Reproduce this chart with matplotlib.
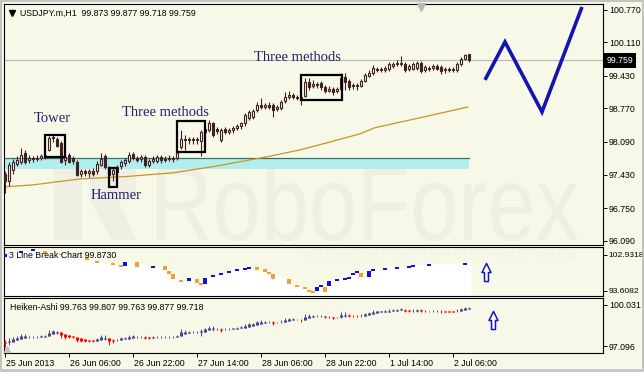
import numpy as np
import matplotlib
matplotlib.use('Agg')
import matplotlib.pyplot as plt
from matplotlib.path import Path
from matplotlib.textpath import TextPath
from matplotlib.font_manager import FontProperties
from matplotlib.patches import PathPatch, Rectangle, Polygon
import matplotlib.transforms as mtransforms

plt.rcParams['font.family'] = ['Liberation Sans', 'DejaVu Sans']

# ---------------- data ----------------
opens = [97.45, 97.29, 97.53, 97.65, 97.69, 97.87, 97.72, 97.76, 97.74, 97.77,
         97.80, 97.93, 98.17, 98.16, 98.07, 97.72, 97.83, 97.76, 97.69, 97.44,
         97.50, 97.46, 97.50, 97.50, 97.63, 97.80, 97.56, 97.45, 97.48, 97.60,
         97.66, 97.70, 97.85, 97.76, 97.74, 97.78, 97.63, 97.70, 97.70, 97.78,
         97.72, 97.74, 97.77, 97.76, 97.99, 98.15, 98.13, 98.15, 98.13, 98.11,
         98.30, 98.34, 98.48, 98.35, 98.14, 98.36, 98.30, 98.33, 98.38, 98.41,
         98.47, 98.58, 98.60, 98.74, 98.84, 98.80, 98.85, 98.84, 98.76, 98.78,
         98.92, 99.00, 99.04, 99.00, 98.95, 99.03, 99.30, 99.22, 99.26, 99.28,
         99.20, 99.13, 99.17, 99.12, 99.16, 99.41, 99.33, 99.22, 99.24, 99.22,
         99.33, 99.43, 99.48, 99.58, 99.56, 99.55, 99.57, 99.64, 99.67, 99.68,
         99.68, 99.58, 99.58, 99.60, 99.70, 99.55, 99.60, 99.59, 99.63, 99.62,
         99.55, 99.57, 99.55, 99.55, 99.68, 99.78, 99.873]
highs = [97.50, 97.68, 97.75, 97.80, 97.97, 97.92, 97.82, 97.80, 97.82, 97.85,
         97.88, 98.22, 98.25, 98.20, 98.12, 97.82, 97.86, 97.80, 97.72, 97.55,
         97.55, 97.55, 97.56, 97.70, 97.87, 97.85, 97.60, 97.58, 97.62, 97.72,
         97.76, 97.88, 97.88, 97.80, 97.82, 97.82, 97.74, 97.80, 97.82, 97.82,
         97.80, 97.82, 97.80, 97.90, 98.34, 98.24, 98.20, 98.20, 98.20, 98.34,
         98.40, 98.54, 98.50, 98.40, 98.38, 98.40, 98.38, 98.42, 98.46, 98.50,
         98.68, 98.74, 98.76, 98.90, 98.98, 98.88, 98.90, 98.88, 98.84, 98.94,
         99.10, 99.12, 99.08, 99.05, 99.06, 99.39, 99.38, 99.34, 99.30, 99.32,
         99.24, 99.22, 99.20, 99.20, 99.50, 99.50, 99.37, 99.28, 99.28, 99.36,
         99.48, 99.55, 99.65, 99.62, 99.62, 99.64, 99.72, 99.72, 99.75, 99.84,
         99.72, 99.67, 99.72, 99.74, 99.74, 99.65, 99.63, 99.68, 99.67, 99.66,
         99.62, 99.61, 99.62, 99.71, 99.82, 99.88, 99.877]
lows = [97.05, 97.20, 97.45, 97.60, 97.65, 97.65, 97.66, 97.68, 97.70, 97.72,
        97.75, 97.90, 98.10, 97.98, 97.66, 97.63, 97.66, 97.64, 97.40, 97.38,
        97.40, 97.38, 97.40, 97.45, 97.60, 97.55, 97.18, 97.30, 97.42, 97.55,
        97.60, 97.66, 97.72, 97.68, 97.68, 97.58, 97.58, 97.66, 97.66, 97.66,
        97.68, 97.70, 97.68, 97.72, 97.95, 97.93, 98.05, 98.05, 98.04, 97.80,
        98.25, 98.30, 98.20, 98.26, 98.10, 98.25, 98.26, 98.28, 98.34, 98.36,
        98.42, 98.54, 98.56, 98.70, 98.76, 98.76, 98.76, 98.60, 98.72, 98.74,
        98.88, 98.96, 98.96, 98.94, 98.84, 99.00, 99.15, 99.18, 99.18, 99.15,
        99.08, 99.10, 99.05, 99.08, 99.12, 99.15, 99.15, 99.16, 99.15, 99.20,
        99.30, 99.40, 99.45, 99.52, 99.52, 99.52, 99.54, 99.60, 99.64, 99.64,
        99.52, 99.54, 99.55, 99.56, 99.50, 99.52, 99.54, 99.55, 99.55, 99.47,
        99.50, 99.51, 99.51, 99.52, 99.64, 99.75, 99.718]
closes = [97.30, 97.63, 97.69, 97.72, 97.83, 97.69, 97.76, 97.74, 97.77, 97.80,
          97.82, 98.17, 98.20, 98.00, 97.69, 97.79, 97.69, 97.70, 97.42, 97.50,
          97.46, 97.50, 97.45, 97.65, 97.75, 97.58, 97.42, 97.52, 97.58, 97.68,
          97.72, 97.83, 97.76, 97.72, 97.78, 97.62, 97.70, 97.75, 97.78, 97.72,
          97.75, 97.77, 97.74, 97.86, 98.16, 98.13, 98.15, 98.13, 98.15, 98.30,
          98.36, 98.48, 98.24, 98.31, 98.34, 98.30, 98.33, 98.38, 98.42, 98.47,
          98.64, 98.70, 98.72, 98.84, 98.80, 98.84, 98.80, 98.74, 98.80, 98.90,
          99.00, 99.04, 99.00, 98.98, 99.00, 99.30, 99.20, 99.27, 99.24, 99.20,
          99.12, 99.17, 99.10, 99.16, 99.39, 99.30, 99.20, 99.24, 99.22, 99.33,
          99.45, 99.50, 99.60, 99.56, 99.58, 99.60, 99.68, 99.68, 99.70, 99.70,
          99.56, 99.63, 99.67, 99.70, 99.53, 99.62, 99.58, 99.64, 99.58, 99.53,
          99.58, 99.55, 99.58, 99.68, 99.78, 99.85, 99.759]

# moving average (read points: bar index, value)
ma_idx = [0, 7, 18.75, 30.5, 42, 52, 65.5, 73.75, 81.25, 88.75, 92.5, 102, 115.75]
ma_val = [97.18, 97.22, 97.34, 97.39, 97.465, 97.59, 97.79, 97.93, 98.09, 98.255, 98.38, 98.55, 98.80]

# support band
band_lo, band_hi, band_end = 97.55, 97.77, 116.0

# forecast zigzag
zz_idx = [120, 125, 134.25, 144.25]
zz_val = [99.35, 100.12, 98.70, 100.83]

# pattern boxes: (x0, x1, y_low, y_high)
boxes = [(10, 15, 97.79, 98.235), (43, 50, 97.89, 98.52),
         (26, 28, 97.18, 97.57), (74, 84.25, 98.944, 99.45)]
notes = [("Tower", 11.9, 98.56), ("Three methods", 40, 98.69),
         ("Three methods", 73, 99.805), ("Hammer", 27.9, 97.0)]

last_price = 99.759
main_ticks = [100.770, 100.110, 99.430, 98.770, 98.090, 97.430, 96.750, 96.090]

# 3 line break indicator blocks
lb_idx = [0, 4, 7, 10, 14, 20.5, 23, 27, 29, 30, 33, 37, 40, 41, 42, 44, 46, 48, 49, 50,
          52, 54, 56, 58, 60, 61, 63, 65, 66, 67, 71, 73, 75, 76, 77, 78, 79, 80, 81,
          83, 85, 86, 87, 88, 89, 91, 92, 95, 98, 101, 102, 106, 115]
lb_lo = [102.41, 103.5, 104.0, 103.2, 102.8, 101.7, 100.86, 100.4, 99.9, 100.08, 99.83,
         99.6, 99.05, 98.01, 96.72, 96.0, 96.20, 95.68, 95.2, 95.42,
         97.3, 97.8, 98.3, 98.85, 99.1, 99.37, 99.05, 98.53, 98.01, 96.72, 95.42, 94.7,
         94.13, 93.4, 93.15, 93.61, 94.7, 93.35, 94.91, 96.26, 96.5, 96.72, 97.75, 98.33,
         97.24, 97.24, 98.85, 99.1, 99.37, 99.63, 99.9, 100.15, 100.4]
lb_hi = [103.19, 103.9, 104.4, 103.97, 103.2, 102.4, 101.38, 100.8, 100.3, 101.12, 101.12,
         100.0, 100.08, 98.79, 98.01, 96.4, 96.98, 96.72, 95.6, 96.98,
         97.7, 98.2, 98.7, 99.25, 99.5, 99.77, 99.83, 99.31, 98.53, 98.01, 96.72, 95.1,
         94.65, 93.8, 93.55, 94.65, 95.1, 94.65, 96.20, 96.66, 96.9, 97.24, 98.27, 98.73,
         98.27, 98.79, 99.25, 99.5, 99.77, 100.03, 100.3, 100.55, 100.8]
lb_dir = ['b', 'b', 'b', 'o', 'o', 'o', 'o', 'o', 'o', 'b', 'o', 'b', 'o', 'o', 'o', 'o', 'b', 'o', 'o', 'b',
          'b', 'b', 'b', 'b', 'b', 'b', 'o', 'o', 'o', 'o', 'o', 'o', 'o', 'o', 'o', 'b', 'b', 'o', 'b',
          'b', 'b', 'b', 'b', 'b', 'o', 'b', 'b', 'b', 'b', 'b', 'b', 'b', 'b']
lb_ticks = [102.9318, 93.6082]
lb_signal = (120.25, 98.53)

ha_ticks = [100.031, 97.096]
ha_signal = (122.1, 98.99)

xtick_idx = [0, 16, 32, 48, 64, 80, 96, 112]
xtick_lab = ["25 Jun 2013", "26 Jun 06:00", "26 Jun 22:00", "27 Jun 14:00",
             "28 Jun 06:00", "28 Jun 22:00", "1 Jul 14:00", "2 Jul 06:00"]

# ---------------- styling ----------------
BG = '#F8F8E8'
WM = '#EFEFE3'
CANDLE = '#402020'
W, H = 644, 372
fig = plt.figure(figsize=(W / 100, H / 100), dpi=100, facecolor=BG)


def rect(x0, y0, x1, y1):
    return [x0 / W, 1 - y1 / H, (x1 - x0) / W, (y1 - y0) / H]


bg = fig.add_axes([0, 0, 1, 1], zorder=0)
bg.set_xlim(0, W); bg.set_ylim(H, 0); bg.axis('off')
ax1 = fig.add_axes(rect(4, 4, 603, 245), zorder=1)
ax2 = fig.add_axes(rect(4, 247, 603, 296), zorder=1, sharex=ax1)
ax3 = fig.add_axes(rect(4, 298, 603, 353), zorder=1, sharex=ax1)
ov = fig.add_axes([0, 0, 1, 1], zorder=5)
ov.set_xlim(0, W); ov.set_ylim(H, 0); ov.axis('off')

for a in (ax1, ax2, ax3):
    a.set_facecolor('none')
    for s in a.spines.values():
        s.set_color('black'); s.set_linewidth(0.8)
    a.yaxis.tick_right()
    a.tick_params(axis='y', direction='out', length=3, width=0.7, pad=1.2,
                  labelsize=6.3, colors='black')
ax2.tick_params(axis='y', pad=0.8, labelsize=6.1)
ax1.tick_params(axis='x', bottom=False, labelbottom=False)
ax2.tick_params(axis='x', bottom=False, labelbottom=False)
ax1.set_xlim(-0.25, 149.5)

# watermarks
fp = FontProperties(family='Liberation Sans')
tp = TextPath((0, 0), 'RoboForex', size=100, prop=fp)
ext = tp.get_extents()
tr = (mtransforms.Affine2D().translate(-ext.x0, -ext.y0)
      .scale((578 - 157) / ext.width, -(241 - 163) / ext.height).translate(157, 241))
bg.add_patch(PathPatch(tr.transform_path(tp), fc=WM, ec='none'))
bg.add_patch(Rectangle((54, 164), 28, 76, fc=WM, ec='none'))
bg.add_patch(Polygon([[90, 164], [136, 164], [136, 200], [118, 200], [136, 240],
                      [112, 240], [90, 200]], closed=True, fc=WM, ec='none'))
bg.text(302, 255, 'ИСПОЛЬЗУЙ РОБОТОВ – ПОЛУЧАЙ ПРИБЫЛЬ', fontsize=8.8,
        color='#F2F2E5', va='center', ha='left')

# ---------------- main panel ----------------
o = np.array(opens); h = np.array(highs); l = np.array(lows); c = np.array(closes)
x = np.arange(len(o))
up = c >= o
ax1.fill_between([-0.25, band_end], band_lo, band_hi, color='#B2EEEE', lw=0, zorder=1)
ax1.plot([-0.25, band_end], [band_hi, band_hi], color='#3E6E6E', lw=0.9, zorder=1.5)
ax1.axhline(last_price, color='#B8B8B8', lw=0.8, zorder=1)
ax1.plot(ma_idx, ma_val, color='#C8961E', lw=0.9, zorder=2)
ax1.vlines(x, l, h, color=CANDLE, lw=0.8, zorder=3)
ax1.bar(x[up], c[up] - o[up], bottom=o[up], width=0.6, facecolor=BG,
        edgecolor=CANDLE, lw=0.8, zorder=4)
ax1.bar(x[~up], o[~up] - c[~up], bottom=c[~up], width=0.6, facecolor=CANDLE,
        edgecolor=CANDLE, lw=0.8, zorder=4)
for (x0, x1, y0, y1) in boxes:
    ax1.add_patch(Rectangle((x0, y0), x1 - x0, y1 - y0, fill=False, ec='black',
                            lw=1.6, zorder=5))
for (s, xx, yy) in notes:
    ax1.text(xx, yy, s, fontfamily='Liberation Serif', fontsize=10.5,
             color='#22226E', ha='center', va='center', zorder=6)
ax1.plot(zz_idx, zz_val, color='#1414B0', lw=2.6, zorder=6,
         solid_joinstyle='miter', solid_capstyle='butt')
ax1.set_ylim(96.00, 100.89)
ax1.set_yticks(main_ticks)
ax1.set_yticklabels(['%.3f' % v for v in main_ticks])

# ---------------- 3 line break panel ----------------
arrow = Path([(-0.22, -1), (0.22, -1), (0.22, 0), (0.5, 0), (0, 1), (-0.5, 0),
              (-0.22, 0), (-0.22, -1)], closed=True)
fill_x = [-0.25] + lb_idx + [116.5]
fill_y = [lb_hi[0] + 0.8] + lb_hi + [lb_hi[-1]]
ax2.fill_between(fill_x, fill_y, 80, color='white', lw=0, zorder=1)
cmap = {'b': '#1010D8', 'o': '#F2A032'}
ax2.bar(lb_idx, np.array(lb_hi) - np.array(lb_lo), bottom=lb_lo, width=0.85,
        color=[cmap[d] for d in lb_dir], lw=0, zorder=3)
ax2.plot([lb_signal[0]], [lb_signal[1]], marker=arrow, ms=13, mfc='white',
         mec='#1515C8', mew=1.1, zorder=4)
ax2.set_ylim(92.31, 105.0)
ax2.set_yticks(lb_ticks)
ax2.set_yticklabels(['%.4f' % v for v in lb_ticks])

# ---------------- Heiken-Ashi panel ----------------
ha_c = (o + h + l + c) / 4
ha_o = np.empty_like(ha_c)
ha_o[0] = (o[0] + c[0]) / 2
for i in range(1, len(ha_o)):
    ha_o[i] = (ha_o[i - 1] + ha_c[i - 1]) / 2
ha_h = np.maximum(h, np.maximum(ha_o, ha_c))
ha_l = np.minimum(l, np.minimum(ha_o, ha_c))
bull = ha_c >= ha_o
ha_col = np.where(bull, '#4A448E', '#FF0000')
ax3.vlines(x, ha_l, ha_h, colors=ha_col, lw=0.7, zorder=3)
ax3.vlines(x, np.minimum(ha_o, ha_c), np.maximum(ha_o, ha_c), colors=ha_col,
           lw=2.2, zorder=4)
ax3.plot([ha_signal[0]], [ha_signal[1]], marker=arrow, ms=13, mfc='white',
         mec='#1515C8', mew=1.1, zorder=4)
ax3.set_ylim(96.595, 100.532)
ax3.set_yticks(ha_ticks)
ax3.set_yticklabels(['%.3f' % v for v in ha_ticks])
ax3.set_xticks(xtick_idx)
ax3.set_xticklabels(xtick_lab)
ax3.tick_params(axis='x', direction='out', length=3, width=0.7, pad=1.2,
                labelsize=6.3)
shift = mtransforms.ScaledTranslation(1.5 / 100, 0, fig.dpi_scale_trans)
for lbl in ax3.get_xticklabels():
    lbl.set_ha('left')
    lbl.set_transform(lbl.get_transform() + shift)
ax1.set_xlim(-0.25, 149.5)

# ---------------- overlay texts ----------------
ov.plot([12], [13], marker='v', ms=4.2, color='black', lw=0)
ov.text(20, 13, 'USDJPY.m,H1  99.873 99.877 99.718 99.759', fontsize=6.3,
        va='center', ha='left')
ov.text(9, 256, '3 Line Break Chart 99.8730', fontsize=6.3, va='center', ha='left')
ov.text(10, 307.5, 'Heiken-Ashi 99.763 99.807 99.763 99.877 99.718', fontsize=6.3,
        va='center', ha='left')
ov.text(607, 60.5, '%.3f' % last_price, fontsize=6.3, color='white', va='center',
        ha='left', bbox=dict(boxstyle='square,pad=0.3', fc='black', ec='none'))
ov.plot([421.5], [6.5], marker='v', ms=5.5, color='#B8B8B8', lw=0)
ov.plot([7], [349], marker='^', ms=4, color='#C4C4C4', lw=0)
ov.add_patch(Rectangle((0.75, 0.75), W - 1.5, H - 1.5, fill=False, ec='#B4B4B4', lw=1.1))
ov.add_patch(Rectangle((0, 368.5), W, 4, fc='#C8C8C8', ec='none'))

fig.savefig('out.png', dpi=100, facecolor=BG)
